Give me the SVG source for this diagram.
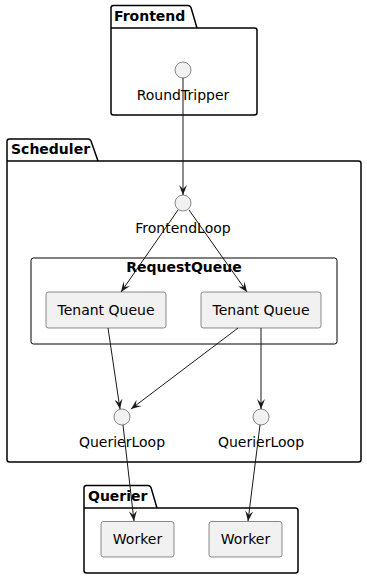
<svg xmlns="http://www.w3.org/2000/svg" width="367" height="579" viewBox="0 0 367 579">
<style>
.pkg{fill:none;stroke:#000;stroke-width:1.5}
.ptitle{font-family:"DejaVu Sans",sans-serif;font-size:14px;font-weight:bold;fill:#000}
.lbl{font-family:"DejaVu Sans",sans-serif;font-size:14px;fill:#000;text-anchor:middle}
.circ{fill:#F1F1F1;stroke:#181818;stroke-width:0.5}
.box{fill:#F1F1F1;stroke:#181818;stroke-width:0.5}
.cont{fill:none;stroke:#000;stroke-width:1}
.edge{fill:none;stroke:#181818;stroke-width:1;marker-end:url(#ah)}
</style>
<defs>
<marker id="ah" markerUnits="userSpaceOnUse" markerWidth="10" markerHeight="8" refX="10" refY="4" orient="auto" viewBox="0 0 10 8">
<path d="M0,0 L10,4 L0,8 L4,4 Z" fill="#181818"/>
</marker>
</defs>
<g id="Frontend">
<path class="pkg" d="M111,8 Q111,5.5 113.5,5.5 L188,5.5 Q190,5.5 191,7.5 L197,28 L254.5,28 Q257,28 257,30.5 L257,112.5 Q257,115 254.5,115 L113.5,115 Q111,115 111,112.5 Z M111,28 L197,28"/>
<text class="ptitle" x="114" y="21">Frontend</text>
</g>
<g id="RoundTripper">
<circle class="circ" cx="183" cy="70" r="8"/>
<text class="lbl" x="183" y="100">RoundTripper</text>
</g>
<g id="Scheduler">
<path class="pkg" d="M7,141.5 Q7,139 9.5,139 L88,139 Q90,139 91,141 L98,161 L358.5,161 Q361,161 361,163.5 L361,459.5 Q361,462 358.5,462 L9.5,462 Q7,462 7,459.5 Z M7,161 L98,161"/>
<text class="ptitle" x="11" y="154">Scheduler</text>
</g>
<g id="FrontendLoop">
<circle class="circ" cx="183" cy="203" r="8"/>
<text class="lbl" x="183" y="233">FrontendLoop</text>
</g>
<g id="RequestQueue">
<rect class="cont" x="31" y="258" width="306" height="86" rx="2.5"/>
<text class="ptitle" x="184" y="272" text-anchor="middle">RequestQueue</text>
</g>
<g id="TenantQueue1">
<rect class="box" x="46" y="292" width="120" height="36" rx="2.5"/>
<text class="lbl" x="106" y="315">Tenant Queue</text>
</g>
<g id="TenantQueue2">
<rect class="box" x="201" y="292" width="120" height="36" rx="2.5"/>
<text class="lbl" x="261" y="315">Tenant Queue</text>
</g>
<g id="QuerierLoop1">
<circle class="circ" cx="122" cy="417" r="8"/>
<text class="lbl" x="122" y="447">QuerierLoop</text>
</g>
<g id="QuerierLoop2">
<circle class="circ" cx="261" cy="417" r="8"/>
<text class="lbl" x="261" y="447">QuerierLoop</text>
</g>
<g id="Querier">
<path class="pkg" d="M84,488 Q84,485.5 86.5,485.5 L148,485.5 Q150,485.5 151,487.5 L157,508 L295.5,508 Q298,508 298,510.5 L298,570.5 Q298,573 295.5,573 L86.5,573 Q84,573 84,570.5 Z M84,508 L157,508"/>
<text class="ptitle" x="88" y="501">Querier</text>
</g>
<g id="Worker1">
<rect class="box" x="101" y="521.5" width="73" height="35.5" rx="2.5"/>
<text class="lbl" x="137.5" y="544">Worker</text>
</g>
<g id="Worker2">
<rect class="box" x="209" y="521.5" width="73" height="35.5" rx="2.5"/>
<text class="lbl" x="245.5" y="544">Worker</text>
</g>
<g id="connectors">
<path class="edge" d="M183,78 L183,195"/>
<path class="edge" d="M178,210 L121,292"/>
<path class="edge" d="M189,210 L247,292"/>
<path class="edge" d="M108,328 L120,409"/>
<path class="edge" d="M238,328 L131,409"/>
<path class="edge" d="M261,328 L261,409"/>
<path class="edge" d="M123,425 L134,521"/>
<path class="edge" d="M260,425 L248,521"/>
</g>
</svg>
